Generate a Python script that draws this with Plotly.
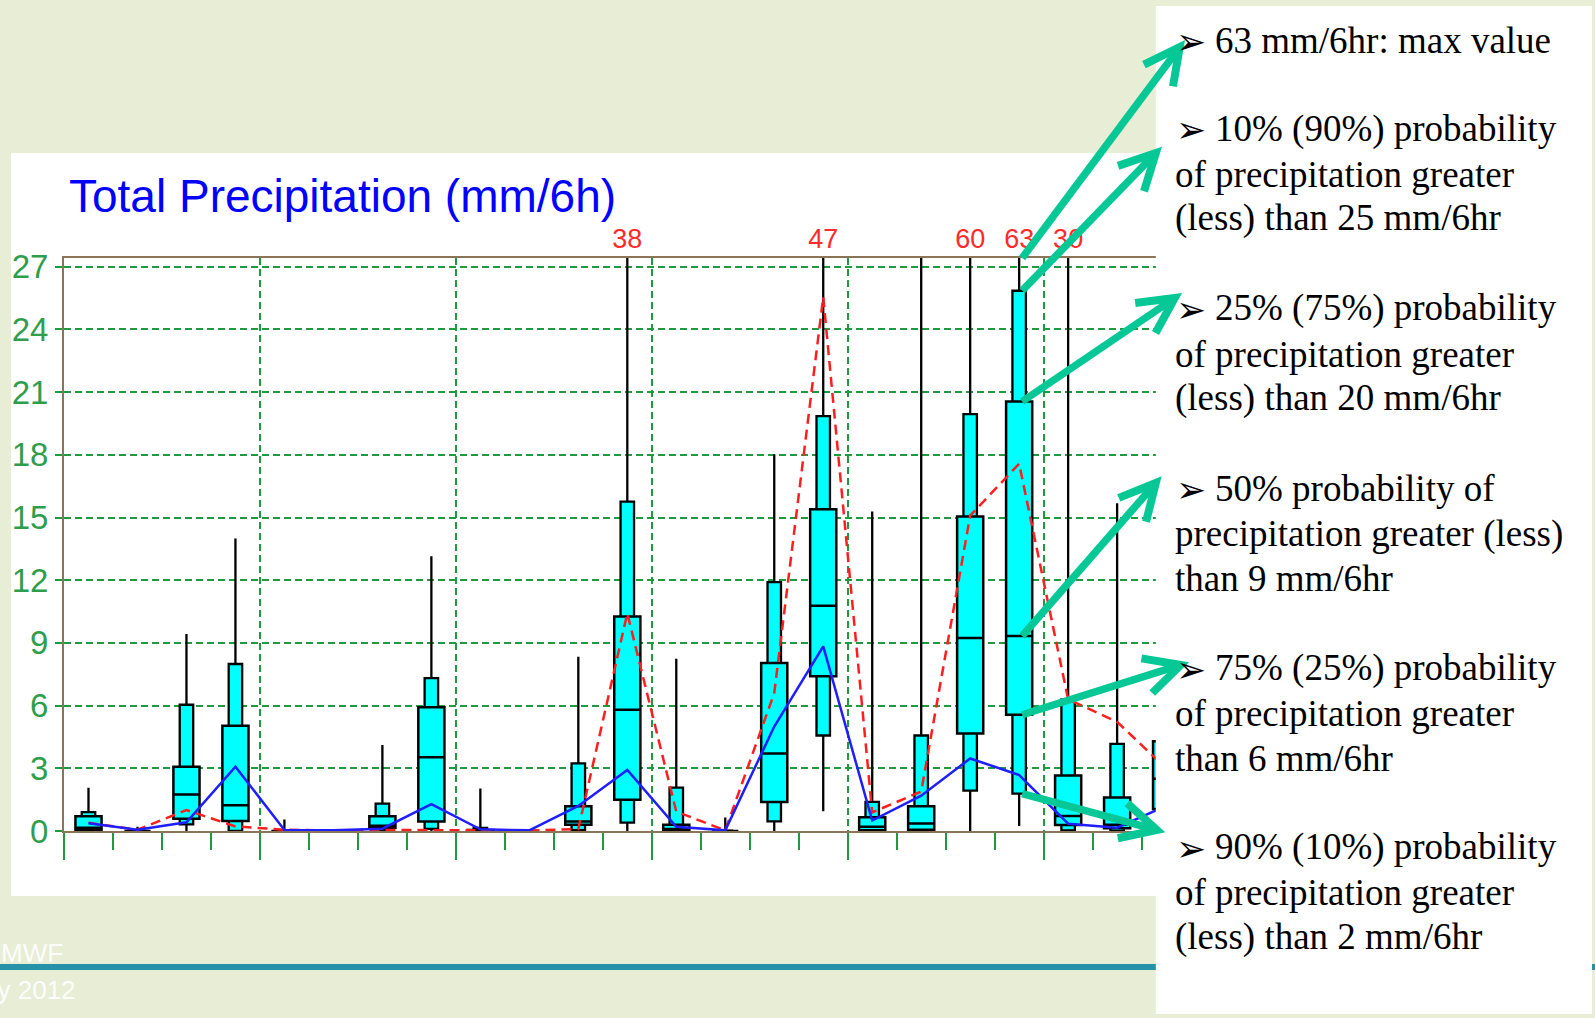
import math
import plotly.graph_objects as go

# ---------------- data (6-hourly precipitation, mm/6h) ----------------
step_hours = [3 + 6 * i for i in range(23)]          # centre of each 6-h interval
p_min = [0, 0, 0, 0, 0, 0, 0, 0, 0, None, 0, 0, 0, 0, 0, 0.95, 0, 0, 0, 0.24, 0, 0, 0]
p10 = [0, 0, 0.32, 0, 0, 0, 0.05, 0.1, 0, None, 0.04, 0.4, 0, 0, 0.46, 4.57, 0, 0, 1.93, 1.79, 0.03, 0, 0.3]
p25 = [0.05, 0, 0.59, 0.48, 0, 0, 0.15, 0.46, 0, None, 0.3, 1.49, 0.04, 0, 1.39, 7.41, 0.04, 0.06, 4.67, 5.56, 0.29, 0.13, 1.05]
p50 = [0.15, 0, 1.75, 1.23, 0, 0, 0.25, 3.53, 0, None, 0.46, 5.8, 0.1, 0, 3.71, 10.78, 0.2, 0.36, 9.23, 9.33, 0.72, 0.3, 2.5]
p75 = [0.7, 0, 3.08, 5.03, 0, 0, 0.7, 5.92, 0.05, None, 1.19, 10.26, 0.3, 0, 8.04, 15.39, 0.66, 1.19, 15.05, 20.55, 2.65, 1.6, 4.3]
p90 = [0.9, 0.02, 6.04, 7.99, 0.02, 0, 1.31, 7.31, 0.15, None, 3.24, 15.76, 2.08, 0.02, 11.91, 19.85, 1.39, 4.57, 19.95, 25.85, 6.3, 4.17, 8.0]
p_max = [2.07, 0.2, 9.43, 14.0, 0.55, 0.05, 4.12, 13.14, 2.03, None, 8.34, 38, 8.24, 0.65, 18.03, 47, 15.29, 28, 60, 63, 30, 15.68, 12]
max_labels = [None] * 11 + ["38"] + [None] * 3 + ["47"] + [None] * 2 + ["60", "63", "30"] + [None] * 2
deterministic = [0.39, 0.06, 1.0, 0.22, 0.06, 0.03, 0.05, 0.04, 0.03, 0.02, 0.1, 10.42, 0.93, 0.03, 6.6, 25.55, 0.89, 1.89, 15.09, 17.57, 6.3, 5.22, 3.0]
control = [0.37, 0.06, 0.42, 3.08, 0.05, 0.03, 0.11, 1.29, 0.08, 0.03, 1.2, 2.92, 0.2, 0.03, 5.0, 8.83, 0.5, 1.69, 3.47, 2.68, 0.35, 0.16, 1.2]

panel_blocks = [
    ["63 mm/6hr: max value"],
    ["10% (90%) probability", "of precipitation greater", "(less) than 25 mm/6hr"],
    ["25% (75%) probability", "of precipitation greater", "(less) than 20 mm/6hr"],
    ["50% probability of", "precipitation greater (less)", "than 9 mm/6hr"],
    ["75% (25%) probability", "of precipitation greater", "than 6 mm/6hr"],
    ["90% (10%) probability", "of precipitation greater", "(less) than 2 mm/6hr"],
]

# ---------------- layout geometry ----------------
W, H = 1595, 1018
PL, PR, PT, PB = 62, 1171.2, 258, 831
XMAX = (PR - PL) / (49.08 / 6)
YMAX = (PB - PT) / 20.9

GRID = "#1f9a3e"
LABEL = "#2f9e4c"
BROWN = "#8a7656"
CYAN = "#00FFFF"
ARROW = "#06C896"


def P(px, py):
    return (px - PL) / (PR - PL), (PB - py) / (PB - PT)


def xpix(xh):
    return PL + xh * (PR - PL) / XMAX


def ypix(v):
    return PB - v * (PB - PT) / YMAX


idx = [i for i in range(len(step_hours)) if p_max[i] is not None]
xs = [step_hours[i] for i in idx]

fig = go.Figure()

# narrow 10-90% box with whiskers to min/max
fig.add_trace(go.Box(
    x=xs, q1=[p10[i] for i in idx], median=[p50[i] for i in idx], q3=[p90[i] for i in idx],
    lowerfence=[p_min[i] for i in idx], upperfence=[p_max[i] for i in idx],
    width=1.65, whiskerwidth=0, fillcolor=CYAN, line=dict(color="black", width=2.3),
    boxpoints=False, hoverinfo="skip", showlegend=False))
# wide 25-75% box with median
fig.add_trace(go.Box(
    x=xs, q1=[p25[i] for i in idx], median=[p50[i] for i in idx], q3=[p75[i] for i in idx],
    lowerfence=[p25[i] for i in idx], upperfence=[p75[i] for i in idx],
    width=3.2, whiskerwidth=0, fillcolor=CYAN, line=dict(color="black", width=2.5),
    boxpoints=False, hoverinfo="skip", showlegend=False))

fig.add_trace(go.Scatter(x=step_hours, y=deterministic, mode="lines",
                         line=dict(color="#FF1E1E", width=2.5, dash="10px,6px"),
                         hoverinfo="skip", showlegend=False))
fig.add_trace(go.Scatter(x=step_hours, y=control, mode="lines",
                         line=dict(color="#1E1EFF", width=2.5),
                         hoverinfo="skip", showlegend=False))

shapes = []
# white chart background
x0, y0 = P(9, 153)
x1, y1 = P(1160, 896)
shapes.append(dict(type="rect", xref="paper", yref="paper", x0=x0, y0=y1, x1=x1, y1=y0,
                   fillcolor="white", line=dict(width=0), layer="below"))
# teal footer line
x0, y0 = P(-5, 964)
x1, y1 = P(W + 5, 970)
shapes.append(dict(type="rect", xref="paper", yref="paper", x0=x0, y0=y1, x1=x1, y1=y0,
                   fillcolor="#2592AA", line=dict(width=0), layer="below"))
# right text panel
x0, y0 = P(1156, 6)
x1, y1 = P(1593, 1014)
shapes.append(dict(type="rect", xref="paper", yref="paper", x0=x0, y0=y1, x1=x1, y1=y0,
                   fillcolor="white", line=dict(width=0), layer="above"))

# off-scale maximum values above the plot (as shape labels so the arrows can cover them)
label_y = (PB - 236) / (PB - PT)
for i, lab in enumerate(max_labels):
    if lab:
        xp = step_hours[i] / XMAX
        shapes.append(dict(type="rect", xref="paper", yref="paper",
                           x0=xp - 0.02, x1=xp + 0.02, y0=label_y - 0.02, y1=label_y + 0.02,
                           line=dict(width=0), fillcolor="rgba(0,0,0,0)", layer="above",
                           label=dict(text=lab, textposition="middle center",
                                      font=dict(family="Arial, Liberation Sans", size=27,
                                                color="#FF2A2A"))))

# arrows from box 19 statistics to the panel bullets
b = 19
tail_x = xpix(step_hours[b]) + 3
arrow_defs = [
    (YMAX, (1180, 47)),
    (p90[b], (1156, 153)),
    (p75[b], (1175, 298)),
    (p50[b], (1156, 483)),
    (p25[b], (1181, 665)),
    (p10[b], (1157, 830)),
]
for val, (hx, hy) in arrow_defs:
    tx, ty = tail_x, ypix(val)
    ang = math.atan2(hy - ty, hx - tx)
    L, half = 40, math.radians(27)
    bx1 = hx - L * math.cos(ang - half)
    by1 = hy - L * math.sin(ang - half)
    bx2 = hx - L * math.cos(ang + half)
    by2 = hy - L * math.sin(ang + half)
    sx = hx - 4 * math.cos(ang)
    sy = hy - 4 * math.sin(ang)
    a0, a1 = P(tx, ty)
    c0, c1 = P(sx, sy)
    shapes.append(dict(type="line", xref="paper", yref="paper", x0=a0, y0=a1, x1=c0, y1=c1,
                       line=dict(color=ARROW, width=7.5), layer="above"))
    p1 = P(bx1, by1)
    p2 = P(hx, hy)
    p3 = P(bx2, by2)
    shapes.append(dict(type="path", xref="paper", yref="paper",
                       path=f"M{p1[0]},{p1[1]} L{p2[0]},{p2[1]} L{p3[0]},{p3[1]}",
                       line=dict(color=ARROW, width=8), layer="above"))

annotations = []
tx, ty = P(65, 196)
annotations.append(dict(xref="paper", yref="paper", x=tx, y=ty, xanchor="left", yanchor="middle",
                        text="Total Precipitation (mm/6h)", showarrow=False,
                        font=dict(family="Arial, Liberation Sans", size=46, color="#0000FF")))

line_centres = [[40], [129, 174, 218], [308, 354, 398], [488, 534, 578], [668, 713, 758], [847, 892, 937]]
serif = "Liberation Serif, Times New Roman, serif"
for block, centres in zip(panel_blocks, line_centres):
    for k, (txt, cy) in enumerate(zip(block, centres)):
        if k == 0:
            bx, by = P(1174, cy + 1)
            annotations.append(dict(xref="paper", yref="paper", x=bx, y=by, xanchor="left",
                                    yanchor="middle", text="➢", showarrow=False,
                                    font=dict(family="DejaVu Sans", size=36, color="black")))
            lx = 1213
        else:
            lx = 1173
        ax_, ay_ = P(lx, cy)
        annotations.append(dict(xref="paper", yref="paper", x=ax_, y=ay_, xanchor="left",
                                yanchor="middle", text=txt, showarrow=False,
                                font=dict(family=serif, size=37, color="black")))

for txt, rx, cy in [("ECMWF", 63, 953), ("January 2012", 76, 990)]:
    ax_, ay_ = P(rx, cy)
    annotations.append(dict(xref="paper", yref="paper", x=ax_, y=ay_, xanchor="right",
                            yanchor="middle", text=txt, showarrow=False,
                            font=dict(family="Arial, Liberation Sans", size=26,
                                      color="rgba(255,255,255,0.92)")))

fig.update_layout(
    width=W, height=H, autosize=False,
    margin=dict(l=PL, r=W - PR, t=PT, b=H - PB, pad=0),
    paper_bgcolor="#E8EDD6", plot_bgcolor="white",
    boxmode="overlay", showlegend=False,
    shapes=shapes, annotations=annotations,
    xaxis=dict(range=[0, XMAX], tick0=0, dtick=24, showgrid=True, gridcolor=GRID,
               griddash="7px,4px", gridwidth=2, ticks="outside", ticklen=27, tickwidth=2,
               tickcolor=GRID, showticklabels=False, showline=True, linecolor=BROWN,
               linewidth=2, mirror=True, zeroline=False, fixedrange=True,
               minor=dict(tick0=0, dtick=6, ticks="outside", ticklen=17, tickwidth=2,
                          tickcolor=GRID, showgrid=False)),
    yaxis=dict(range=[0, YMAX], tick0=0, dtick=3, showgrid=True, gridcolor=GRID,
               griddash="7px,4px", gridwidth=2, ticks="outside", ticklen=7, tickwidth=2,
               tickcolor=GRID, tickfont=dict(family="Arial, Liberation Sans", size=33, color=LABEL),
               showline=True, linecolor=BROWN, linewidth=2, mirror=True, zeroline=False,
               fixedrange=True),
)

fig.write_html("out.html", config={"displayModeBar": False},
               post_script="document.body.style.margin='0';document.body.style.overflow='hidden';")
